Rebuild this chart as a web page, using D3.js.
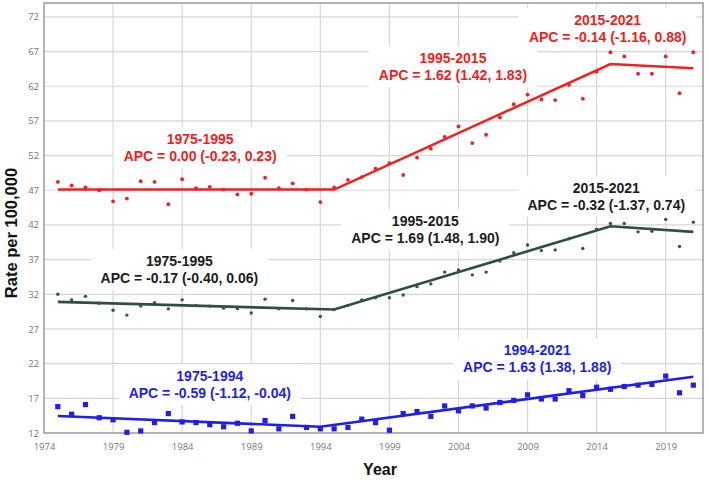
<!DOCTYPE html>
<html>
<head>
<meta charset="utf-8">
<script src="https://cdn.jsdelivr.net/npm/d3@7"></script>
<style>
  body { margin: 0; background: #fff; }
  .tick-label { font-family: "Open Sans", sans-serif; font-size: 9.5px; fill: #777; }
  .axis-title { font-family: "Liberation Sans", Arial, sans-serif; font-weight: bold; fill: #111; }
  .seg-label { font-family: "Liberation Sans", Arial, sans-serif; font-weight: bold; font-size: 14px; }
</style>
</head>
<body>
<div id="chart"></div>
<script>

// observed years
var years = [1975, 1976, 1977, 1978, 1979, 1980, 1981, 1982, 1983, 1984,
             1985, 1986, 1987, 1988, 1989, 1990, 1991, 1992, 1993, 1994,
             1995, 1996, 1997, 1998, 1999, 2000, 2001, 2002, 2003, 2004,
             2005, 2006, 2007, 2008, 2009, 2010, 2011, 2012, 2013, 2014,
             2015, 2016, 2017, 2018, 2019, 2020, 2021];

// observed rates per 100,000
var redRates = [48.2, 47.7, 47.4, 47.0, 45.4, 45.8, 48.3, 48.2, 45.0, 48.6,
                47.3, 47.5, 47.1, 46.4, 46.5, 48.8, 47.3, 48.0, 47.1, 45.3,
                47.4, 48.5, 48.9, 50.1, 50.9, 49.2, 51.7, 53.0, 54.7, 56.2,
                53.8, 55.0, 57.5, 59.4, 60.8, 60.1, 60.0, 62.2, 60.2, 64.1,
                66.9, 66.3, 63.8, 63.8, 66.3, 61.0, 66.9];

var greenRates = [32.0, 31.2, 31.7, 30.7, 29.7, 29.0, 30.3, 30.8, 29.9, 31.2,
                  30.4, 30.3, 30.0, 29.9, 29.3, 31.3, 29.9, 31.1, 29.9, 28.8,
                  29.8, 30.4, 31.2, 31.5, 31.5, 31.9, 33.1, 33.5, 35.2, 35.5,
                  34.8, 35.2, 36.8, 38.0, 39.1, 38.3, 38.4, 40.0, 38.6, 41.4,
                  42.2, 42.2, 41.0, 41.1, 42.8, 38.9, 42.4];

var blueRates = [15.8, 14.7, 16.1, 14.2, 13.9, 12.1, 12.3, 13.5, 14.8, 13.6,
                 13.5, 13.2, 12.9, 13.4, 12.3, 13.8, 12.6, 14.4, 12.8, 12.6,
                 12.6, 12.8, 14.0, 13.5, 12.4, 14.8, 15.1, 14.4, 15.9, 15.2,
                 15.9, 15.6, 16.4, 16.7, 17.5, 16.9, 16.9, 18.1, 17.4, 18.6,
                 18.3, 18.7, 18.9, 19.0, 20.2, 17.8, 18.9];

// joinpoint fitted trends
var redJoinYears = [1975, 1995, 2015, 2021];
var redTrend = [47.1, 47.1, 65.2, 64.6];
var greenJoinYears = [1975, 1995, 2015, 2021];
var greenTrend = [30.9, 29.8, 41.8, 41.0];
var blueJoinYears = [1975, 1994, 2021];
var blueTrend = [14.45, 12.9, 20.1];

// segment labels
var redSegments = [["1975-1995", "APC = 0.00 (-0.23, 0.23)"],
                   ["1995-2015", "APC = 1.62 (1.42, 1.83)"],
                   ["2015-2021", "APC = -0.14 (-1.16, 0.88)"]];
var greenSegments = [["1975-1995", "APC = -0.17 (-0.40, 0.06)"],
                     ["1995-2015", "APC = 1.69 (1.48, 1.90)"],
                     ["2015-2021", "APC = -0.32 (-1.37, 0.74)"]];
var blueSegments = [["1975-1994", "APC = -0.59 (-1.12, -0.04)"],
                    ["1994-2021", "APC = 1.63 (1.38, 1.88)"]];

// axis ticks
var xTicks = [1974, 1979, 1984, 1989, 1994, 1999, 2004, 2009, 2014, 2019];
var yTicks = [12, 17, 22, 27, 32, 37, 42, 47, 52, 57, 62, 67, 72];

var width = 709, height = 480;
var plot = {left: 44, right: 703, top: 3, bottom: 433};

var svg = d3.select("#chart")
    .append("svg")
    .attr("width", width)
    .attr("height", height);

var x = d3.scaleLinear().domain([1974, 2021.7]).range([plot.left, plot.right]);
var y = d3.scaleLinear().domain([12, 74]).range([plot.bottom, plot.top]);

// grid
svg.append("g")
    .selectAll("line")
    .data(xTicks.slice(1))
    .enter().append("line")
    .attr("x1", function(d) { return x(d); })
    .attr("x2", function(d) { return x(d); })
    .attr("y1", plot.top)
    .attr("y2", plot.bottom)
    .attr("stroke", "#d6d6d6")
    .attr("stroke-width", 1.2);

svg.append("g")
    .selectAll("line")
    .data(yTicks.slice(1))
    .enter().append("line")
    .attr("x1", plot.left)
    .attr("x2", plot.right)
    .attr("y1", function(d) { return y(d); })
    .attr("y2", function(d) { return y(d); })
    .attr("stroke", "#d6d6d6")
    .attr("stroke-width", 1.2);

// frame
svg.append("rect")
    .attr("x", plot.left)
    .attr("y", plot.top)
    .attr("width", plot.right - plot.left)
    .attr("height", plot.bottom - plot.top)
    .attr("fill", "none")
    .attr("stroke", "#9a9a9a")
    .attr("stroke-width", 1.5);

// axes (labels only, frame drawn above)
var xAxis = svg.append("g")
    .attr("transform", "translate(0," + plot.bottom + ")")
    .call(d3.axisBottom(x).tickValues(xTicks).tickFormat(d3.format("d")).tickSize(0).tickPadding(10));
var yAxis = svg.append("g")
    .attr("transform", "translate(" + plot.left + ",0)")
    .call(d3.axisLeft(y).tickValues(yTicks).tickFormat(d3.format("d")).tickSize(0).tickPadding(5));
[xAxis, yAxis].forEach(function(a) {
    a.select(".domain").remove();
    a.selectAll("text").attr("class", "tick-label").attr("fill", null);
});

// axis titles
svg.append("text")
    .attr("class", "axis-title")
    .attr("transform", "translate(17,233) rotate(-90)")
    .attr("text-anchor", "middle")
    .style("font-size", "16.5px")
    .text("Rate per 100,000");

svg.append("text")
    .attr("class", "axis-title")
    .attr("x", 380)
    .attr("y", 475)
    .attr("text-anchor", "middle")
    .style("font-size", "16px")
    .text("Year");

// label anchors: [year, rate] of first-line baseline centre
var redLabelAt = [[1985.3, 53.6], [2003.6, 65.3], [2014.8, 70.9]];
var greenLabelAt = [[1983.8, 36.1], [2001.6, 41.8], [2014.7, 46.6]];
var blueLabelAt = [[1986.0, 19.5], [2009.7, 23.2]];

function drawLabels(segs, at, color) {
    segs.forEach(function(s, i) {
        var g = svg.append("g")
            .attr("transform", "translate(" + x(at[i][0]) + "," + y(at[i][1]) + ")");
        var bg = g.append("rect").attr("fill", "#fff");
        var t = g.append("text")
            .attr("class", "seg-label")
            .attr("text-anchor", "middle")
            .attr("fill", color);
        t.append("tspan").attr("x", 0).attr("y", 0).text(s[0]);
        t.append("tspan").attr("x", 0).attr("y", 17).text(s[1]);
        var bb = t.node().getBBox();
        bg.attr("x", bb.x - 10)
            .attr("y", bb.y - 4)
            .attr("width", bb.width + 20)
            .attr("height", bb.height + 8);
    });
}

drawLabels(redSegments, redLabelAt, "#f21e1e");
drawLabels(greenSegments, greenLabelAt, "#1c1c1c");
drawLabels(blueSegments, blueLabelAt, "#1f1fe6");

var line = d3.line()
    .x(function(d) { return x(d[0]); })
    .y(function(d) { return y(d[1]); });

function drawTrend(jy, vals, color) {
    svg.append("path")
        .datum(jy.map(function(yr, i) { return [yr, vals[i]]; }))
        .attr("d", line)
        .attr("fill", "none")
        .attr("stroke", color)
        .attr("stroke-width", 2.6);
}

drawTrend(redJoinYears, redTrend, "#f42020");
drawTrend(greenJoinYears, greenTrend, "#2f4d47");
drawTrend(blueJoinYears, blueTrend, "#1f1fe6");

// observed points
svg.append("g")
    .selectAll("circle")
    .data(redRates)
    .enter().append("circle")
    .attr("cx", function(d, i) { return x(years[i]); })
    .attr("cy", function(d) { return y(d); })
    .attr("r", 1.9)
    .attr("fill", "#f42020");

svg.append("g")
    .selectAll("circle")
    .data(greenRates)
    .enter().append("circle")
    .attr("cx", function(d, i) { return x(years[i]); })
    .attr("cy", function(d) { return y(d); })
    .attr("r", 1.7)
    .attr("fill", "#3a524d");

svg.append("g")
    .selectAll("rect")
    .data(blueRates)
    .enter().append("rect")
    .attr("x", function(d, i) { return x(years[i]) - 2.6; })
    .attr("y", function(d) { return y(d) - 2.6; })
    .attr("width", 5.2)
    .attr("height", 5.2)
    .attr("fill", "#1f1fe6");

</script>
</body>
</html>
